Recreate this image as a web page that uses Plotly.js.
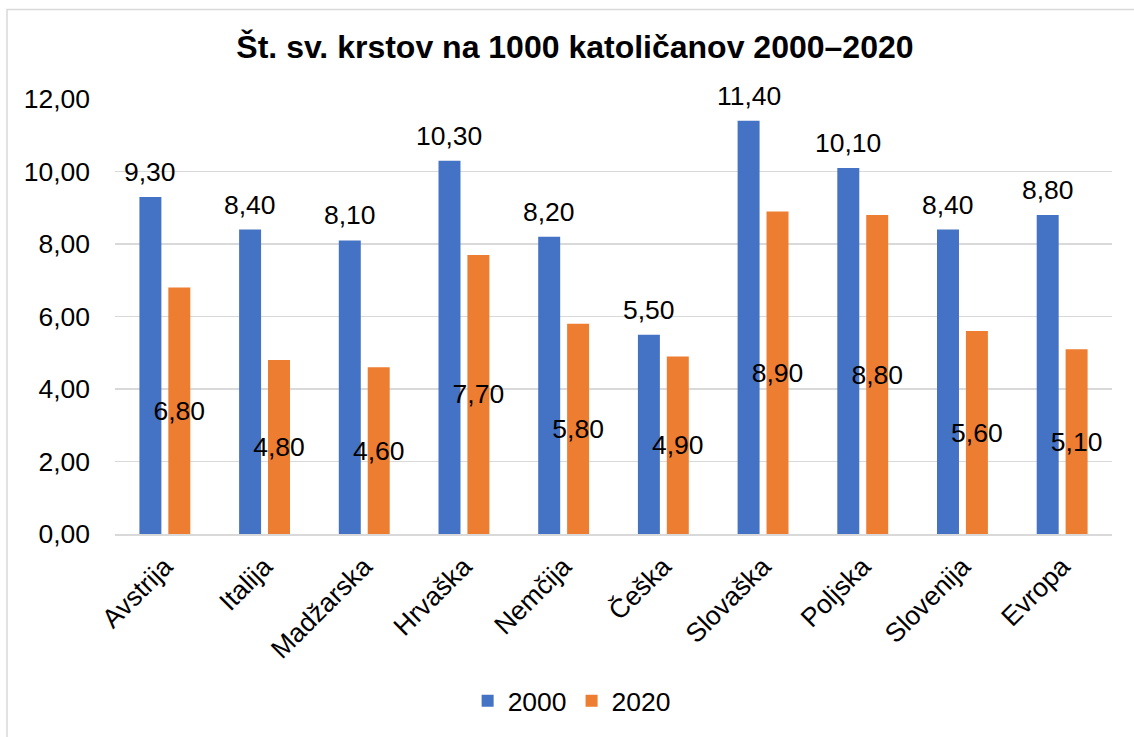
<!DOCTYPE html>
<html>
<head>
<meta charset="utf-8">
<script src="https://cdn.plot.ly/plotly-3.0.1.min.js"></script>
<style>
  html, body { margin: 0; padding: 0; background: #ffffff; }
  #chart { width: 1134px; height: 737px; }
</style>
</head>
<body>
<div id="chart"></div>
<script>
var categories = ['Avstrija', 'Italija', 'Madžarska', 'Hrvaška', 'Nemčija', 'Češka', 'Slovaška', 'Poljska', 'Slovenija', 'Evropa'];
var values2000 = [9.3, 8.4, 8.1, 10.3, 8.2, 5.5, 11.4, 10.1, 8.4, 8.8];
var values2020 = [6.8, 4.8, 4.6, 7.7, 5.8, 4.9, 8.9, 8.8, 5.6, 5.1];
var seriesNames = ['2000', '2020'];
var yTicks = [0, 2, 4, 6, 8, 10, 12];

var FONT = 'Liberation Sans, Arial, sans-serif';
var FS = 26.5;
var BARGAP = 0.42;
var BARGROUPGAP = 0.24;

var trace2000 = {
  type: 'bar',
  name: seriesNames[0],
  x: categories,
  y: values2000,
  marker: { color: '#4472C4' },
  hoverinfo: 'x+y'
};

var trace2020 = {
  type: 'bar',
  name: seriesNames[1],
  x: categories,
  y: values2020,
  marker: { color: '#ED7D31' },
  texttemplate: '%{y:.2f}',
  textposition: 'inside',
  insidetextanchor: 'middle',
  textangle: 0,
  constraintext: 'none',
  insidetextfont: { family: FONT, size: FS, color: '#000000' },
  cliponaxis: false,
  hoverinfo: 'x+y'
};

// labels for the 2000 series, placed above each blue bar
var blueOffset = (1 - BARGAP) / 4;
var annotations = values2000.map(function (v, i) {
  return {
    xref: 'x', yref: 'y',
    x: i - blueOffset,
    y: v,
    text: v.toFixed(2).replace('.', ','),
    showarrow: false,
    xanchor: 'center',
    yanchor: 'bottom',
    yshift: 8,
    font: { family: FONT, size: FS, color: '#000000' }
  };
});

var layout = {
  width: 1134,
  height: 737,
  separators: ',.',
  paper_bgcolor: '#ffffff',
  plot_bgcolor: '#ffffff',
  font: { family: FONT, size: FS, color: '#000000' },
  margin: { l: 115, r: 22, t: 99, b: 200, pad: 0 },
  title: {
    text: '<b>Št. sv. krstov na 1000 katoličanov 2000–2020</b>',
    font: { family: FONT, size: 32, color: '#000000' },
    x: 0.507,
    xanchor: 'center',
    y: 0.937,
    yanchor: 'middle'
  },
  barmode: 'group',
  bargap: BARGAP,
  bargroupgap: BARGROUPGAP,
  xaxis: {
    type: 'category',
    tickangle: -45,
    tickfont: { family: FONT, size: FS, color: '#000000' },
    showline: true,
    linecolor: '#D9D9D9',
    linewidth: 1.5,
    ticks: '',
    ticklabelstandoff: 5,
    showgrid: false,
    zeroline: false
  },
  yaxis: {
    range: [0, 12],
    tickvals: yTicks,
    tickformat: '.2f',
    tickfont: { family: FONT, size: FS, color: '#000000' },
    showgrid: true,
    gridcolor: '#D9D9D9',
    gridwidth: 1.5,
    zeroline: false,
    showline: false,
    ticks: '',
    ticklabelstandoff: 24
  },
  showlegend: true,
  legend: {
    orientation: 'h',
    x: 0.458,
    xanchor: 'center',
    y: -0.384,
    yanchor: 'middle',
    font: { family: FONT, size: FS, color: '#000000' },
    itemwidth: 30,
    traceorder: 'normal'
  },
  annotations: annotations,
  shapes: [{
    type: 'rect',
    xref: 'paper', yref: 'paper',
    x0: (7 - 115) / 997, x1: (1145 - 115) / 997,
    y0: (537 - 750) / 438, y1: (537 - 9) / 438,
    line: { color: '#D9D9D9', width: 1.5 },
    fillcolor: 'rgba(0,0,0,0)',
    layer: 'below'
  }]
};

Plotly.newPlot('chart', [trace2000, trace2020], layout, { displayModeBar: false, staticPlot: true });
</script>
</body>
</html>
